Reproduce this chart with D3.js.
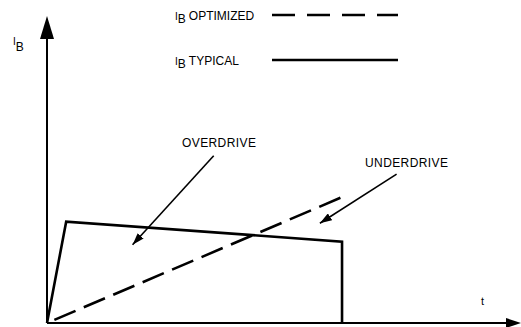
<!DOCTYPE html>
<html>
<head>
<meta charset="utf-8">
<script src="https://cdn.jsdelivr.net/npm/d3@7"></script>
<style>
  html, body { margin: 0; padding: 0; background: #fff; }
  svg text { font-family: "Liberation Sans", Arial, sans-serif; fill: #000; }
</style>
</head>
<body>
<div id="chart"></div>
<script>
// Base current waveforms (time in arbitrary units, I_B in % of full scale)
const typicalT  = [0, 6.5, 100, 100];
const typicalIb = [0, 33, 26.5, 0];

const optimizedT  = [0, 100];
const optimizedIb = [0, 41];

// annotation labels and the points their arrows go from / to
const noteLabels = ["OVERDRIVE", "UNDERDRIVE"];
const noteFromT  = [56.5, 118.5];
const noteFromIb = [54.5, 48.5];
const noteToT    = [29, 92.5];
const noteToIb   = [25.5, 32.5];

const legendLabels = ["OPTIMIZED", "TYPICAL"];

const width = 521, height = 327;

const svg = d3.select("#chart").append("svg")
    .attr("width", width)
    .attr("height", height);

const x = d3.scaleLinear().domain([0, 161]).range([47, 522]);
const y = d3.scaleLinear().domain([0, 100]).range([323, 16]);

const defs = svg.append("defs");
defs.append("marker")
    .attr("id", "head")
    .attr("viewBox", "0 0 12 8")
    .attr("refX", 12).attr("refY", 4)
    .attr("markerWidth", 12).attr("markerHeight", 8)
    .attr("markerUnits", "userSpaceOnUse")
    .attr("orient", "auto")
  .append("path")
    .attr("d", "M0,0 L12,4 L0,8 Z")
    .attr("fill", "#000");

// axes drawn as plain arrows, no ticks
const axes = svg.append("g");
axes.append("line")
    .attr("x1", x(0)).attr("y1", y(0))
    .attr("x2", x(0)).attr("y2", y(100) + 20)
    .attr("stroke", "#000").attr("stroke-width", 2);
axes.append("path")
    .attr("d", `M${x(0)},${y(100)} L${x(0) - 7},${y(100) + 23} L${x(0) + 7},${y(100) + 23} Z`)
    .attr("fill", "#000");
axes.append("line")
    .attr("x1", x(0)).attr("y1", y(0))
    .attr("x2", 509).attr("y2", y(0))
    .attr("stroke", "#000").attr("stroke-width", 2);
axes.append("path")
    .attr("d", `M521,${y(0)} L506,${y(0) - 5} L506,${y(0) + 5} Z`)
    .attr("fill", "#000");

// axis labels
const ibLabel = svg.append("text").attr("x", 13).attr("y", 45).attr("font-size", 10);
ibLabel.append("tspan").text("I");
ibLabel.append("tspan").attr("dy", 6).attr("font-size", 12).text("B");

svg.append("text")
    .attr("x", 481).attr("y", 305)
    .attr("font-size", 11)
    .text("t");

const line = d3.line()
    .x(d => x(d[0]))
    .y(d => y(d[1]));

svg.append("path")
    .datum(typicalT.map((t, i) => [t, typicalIb[i]]))
    .attr("d", line)
    .attr("fill", "none")
    .attr("stroke", "#000")
    .attr("stroke-width", 2.6)
    .attr("stroke-linejoin", "miter");

svg.append("path")
    .datum(optimizedT.map((t, i) => [t, optimizedIb[i]]))
    .attr("d", line)
    .attr("fill", "none")
    .attr("stroke", "#000")
    .attr("stroke-width", 2.6)
    .attr("stroke-dasharray", "23,9")
    .attr("stroke-dashoffset", -8);

// annotations
const notes = svg.append("g");
noteLabels.forEach((label, i) => {
    notes.append("line")
        .attr("x1", x(noteFromT[i])).attr("y1", y(noteFromIb[i]))
        .attr("x2", x(noteToT[i])).attr("y2", y(noteToIb[i]))
        .attr("stroke", "#000").attr("stroke-width", 1.6)
        .attr("marker-end", "url(#head)");
});
notes.append("text")
    .attr("x", 182).attr("y", 147)
    .attr("font-size", 12).attr("letter-spacing", 0.4)
    .text(noteLabels[0]);
notes.append("text")
    .attr("x", 365).attr("y", 167)
    .attr("font-size", 12).attr("letter-spacing", 0.4)
    .text(noteLabels[1]);

// legend
const legend = svg.append("g");
legendLabels.forEach((label, i) => {
    const ly = i === 0 ? 16 : 61;
    const t = legend.append("text").attr("x", 175).attr("y", ly + 4).attr("font-size", 10);
    t.append("tspan").text("I");
    t.append("tspan").attr("dy", 3).attr("font-size", 12).text("B");
    t.append("tspan").attr("dy", -3).attr("dx", 3).attr("font-size", 12).text(label);
    legend.append("line")
        .attr("x1", 272).attr("y1", ly - 1)
        .attr("x2", 398).attr("y2", ly - 1)
        .attr("stroke", "#000").attr("stroke-width", 2.6)
        .attr("stroke-dasharray", i === 0 ? "23,12" : null);
});
</script>
</body>
</html>
